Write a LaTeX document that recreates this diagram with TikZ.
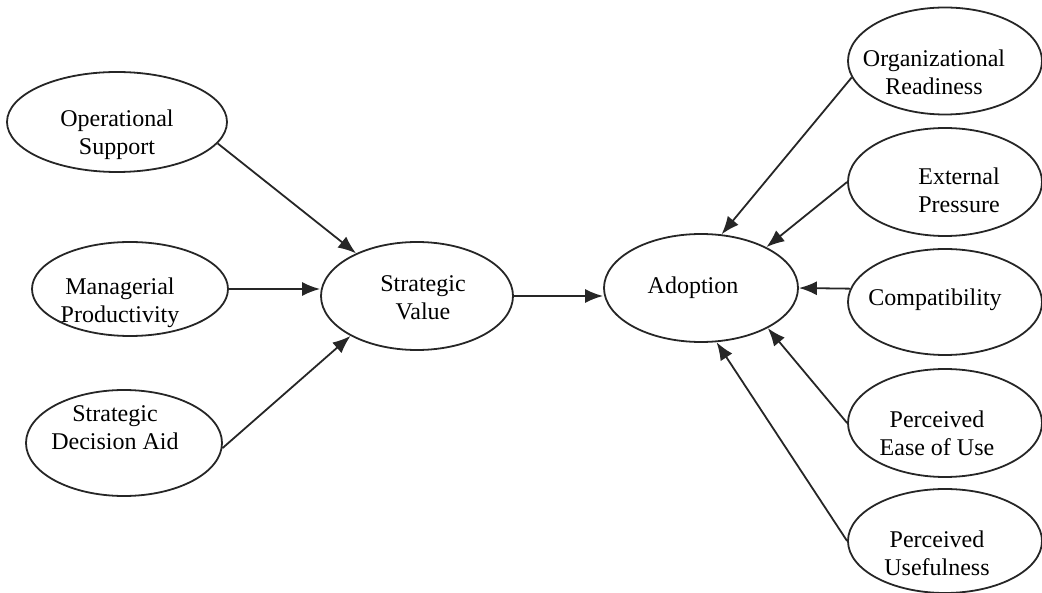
\documentclass[tikz,border=0pt]{standalone}
\usepackage{fontspec}
\setmainfont{Liberation Serif}
\usetikzlibrary{shapes.geometric,arrows.meta}

\tikzset{
  oval/.style={ellipse, draw=black!85, line width=1.8pt, inner sep=0pt},
  every label/.style={align=center, inner sep=0pt, font=\fontsize{24}{28}\selectfont},
  link/.style={draw=black!85, line width=1.8pt, -{Latex[length=18pt,width=14pt]}}
}

\begin{document}
\begin{tikzpicture}[x=1pt,y=-1pt]
  \useasboundingbox (0,0) rectangle (1042,593);

  % the three value drivers on the left
  \node[oval, minimum width=220pt, minimum height=100pt,
    label={[yshift=-13pt]center:{Operational\\Support}}] (ops) at (117,122) {};
  \node[oval, minimum width=196pt, minimum height=94pt,
    label={[xshift=-10pt,yshift=-14pt]center:{Managerial\\Productivity}}] (mgr) at (130,289) {};
  \node[oval, minimum width=196pt, minimum height=106pt,
    label={[xshift=-9pt,yshift=15pt]center:{Strategic\\Decision Aid}}] (sda) at (124,443) {};

  % the two central constructs
  \node[oval, minimum width=192pt, minimum height=108pt,
    label={[xshift=6pt,yshift=-2pt]center:{Strategic\\Value}}] (sv) at (417,296) {};
  \node[oval, minimum width=194pt, minimum height=108pt,
    label={[xshift=-8pt]center:{Adoption}}] (adp) at (701,288) {};

  % the adoption factors on the right
  \node[oval, minimum width=194pt, minimum height=107pt,
    label={[xshift=-11pt,yshift=-11pt]center:{Organizational\\Readiness}}] (org) at (945,61) {};
  \node[oval, minimum width=194pt, minimum height=108pt,
    label={[xshift=14pt,yshift=-8pt]center:{External\\Pressure}}] (ext) at (945,182) {};
  \node[oval, minimum width=194pt, minimum height=106pt,
    label={[xshift=-10pt,yshift=2pt]center:{Compatibility}}] (cmp) at (945,302) {};
  \node[oval, minimum width=194pt, minimum height=108pt,
    label={[xshift=-8pt,yshift=-10pt]center:{Perceived\\Ease of Use}}] (peu) at (945,423) {};
  \node[oval, minimum width=194pt, minimum height=104pt,
    label={[xshift=-8pt,yshift=-12pt]center:{Perceived\\Usefulness}}] (pu) at (945,541) {};

  % arrows into strategic value
  \draw[link] (ops.-12) -- (sv.145);
  \draw[link] (mgr.east) -- (sv.west |- mgr.east);
  \draw[link] (sda.-3) -- (sv.211);
  \draw[link] (sv.east) -- (adp.west |- sv.east);

  % arrows into adoption
  \draw[link] (org.190) -- (adp.69);
  \draw[link] (ext.west) -- (adp.32);
  \draw[link] (cmp.172) -- (adp.east);
  \draw[link] (peu.west) -- (adp.-31);
  \draw[link] (pu.west) -- (adp.-74);
\end{tikzpicture}
\end{document}
